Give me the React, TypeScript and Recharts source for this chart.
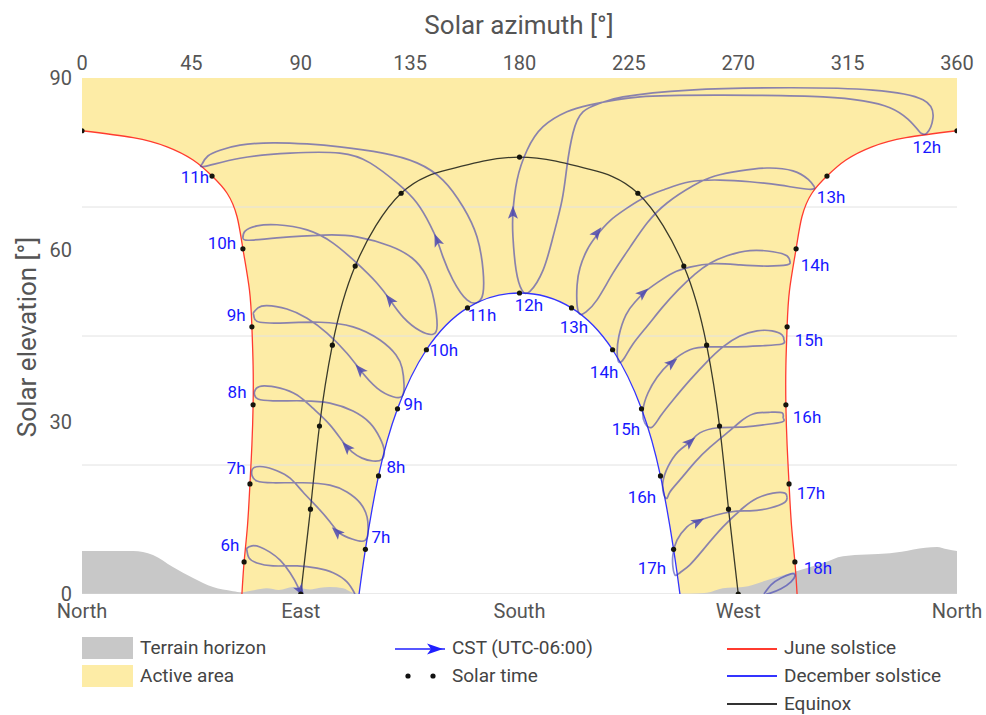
import { CSSProperties } from "react"
import { ComposedChart, Area, Line, Scatter, XAxis, YAxis } from "recharts"

// axes
const azimuthTicks = [0, 45, 90, 135, 180, 225, 270, 315, 360]
const compassTicks = [0, 90, 180, 270, 360]
const compassNames = ["North", "East", "South", "West", "North"]
const elevationTicks = [0, 30, 60, 90]
const gridLevels = [0, 22.5, 45, 67.5]

// sun paths [azimuth, elevation]
const juneLeft = [
  [0, 80.8], [21, 79.6], [35, 78.0], [45.7, 75.7], [53.5, 72.9], [59.7, 69.9], [63.8, 65.8],
  [66.2, 60.2], [68.9, 53.0], [69.9, 46.6], [70.4, 39.8], [70.4, 33.0], [69.9, 26.0],
  [69.1, 19.2], [68.1, 12.0], [66.7, 5.6], [65.8, 0],
]
const juneRight = [
  [294.2, 0], [293.3, 5.6], [291.9, 12.0], [290.9, 19.2], [290.1, 26.0], [289.6, 33.0],
  [289.6, 39.8], [290.1, 46.6], [291.1, 53.0], [293.8, 60.2], [296.2, 65.8], [300.3, 69.9],
  [306.5, 72.9], [314.3, 75.7], [325.0, 78.0], [339.0, 79.6], [360, 80.8],
]
const december = [
  [114.0, 0], [116.6, 7.8], [122.0, 20.6], [129.8, 32.3], [141.7, 42.6], [158.6, 49.9],
  [180, 52.5], [201.4, 49.9], [218.3, 42.6], [230.2, 32.3], [238.0, 20.6], [243.4, 7.8], [246.0, 0],
]
const equinox = [
  [90, 0], [94.0, 14.8], [97.7, 29.3], [103.0, 43.4], [112.4, 57.2], [131.3, 69.9], [151.5, 74.1],
  [165.0, 75.5], [180, 76.2], [195.0, 75.5], [208.5, 74.1], [228.7, 69.9], [247.6, 57.2],
  [257.0, 43.4], [262.3, 29.3], [266.0, 14.8], [270, 0],
]

// solar time dots
const juneDots = [
  [66.7, 5.6], [69.1, 19.2], [70.4, 33.0], [69.9, 46.6], [66.2, 60.2], [53.5, 72.9], [0, 80.8],
  [360, 80.8], [306.5, 72.9], [293.8, 60.2], [290.1, 46.6], [289.6, 33.0], [290.9, 19.2], [293.3, 5.6],
]
const decemberDots = [
  [116.6, 7.8], [122.0, 20.6], [129.8, 32.3], [141.7, 42.6], [158.6, 49.9], [180, 52.5],
  [201.4, 49.9], [218.3, 42.6], [230.2, 32.3], [238.0, 20.6], [243.4, 7.8],
]
const equinoxDots = [
  [90, 0], [94.0, 14.8], [97.7, 29.3], [103.0, 43.4], [112.4, 57.2], [131.3, 69.9], [180, 76.2],
  [228.7, 69.9], [247.6, 57.2], [257.0, 43.4], [262.3, 29.3], [266.0, 14.8], [270, 0],
]

// terrain horizon
const terrain = [
  [0, 7.5], [10, 7.5], [21, 7.5], [29.2, 6.8], [37.4, 4.7], [45.7, 2.8], [53.9, 1.2], [62.1, 0.5],
  [65.8, 0.3], [70, 0.6], [76.1, 1.0], [81, 0.7], [86.8, 1.2], [93.8, 0.8], [98, 1.1], [102, 1.2],
  [107.4, 1.0], [111.5, 0.2], [114, 0], [250, 0], [257.1, 0.2], [263.7, 1.0], [271.9, 1.2],
  [281.8, 2.4], [292.5, 3.8], [304.9, 5.4], [313.1, 6.6], [332.4, 7.1], [351.8, 8.2], [356, 7.8], [360, 7.5],
]

// CST clock-hour analemmas
const cst06 = [
  [89.7, 0], [88.9, 1.2], [85.6, 3.7], [81.5, 5.9], [77.3, 7.3], [73.2, 8.2], [69.9, 8.4], [67.9, 8.0],
  [67.9, 7.5], [68.7, 6.3], [72.0, 5.4], [78.6, 4.9], [88.5, 4.9], [96.7, 4.5], [103.3, 3.7], [109.0, 2.1], [112.3, 0],
]
const cst07 = [
  [69.8, 21.3], [70.6, 22.0], [74.5, 22.2], [80.2, 21.5], [85.6, 20.2], [90.9, 17.8], [96.7, 15.2],
  [102.0, 12.6], [106.1, 10.6], [111.1, 9.6], [115.2, 9.2], [117.3, 9.8], [117.7, 11.2], [117.3, 13.4],
  [114.4, 15.9], [109.0, 17.8], [102.0, 19.0], [90.9, 19.4], [78.6, 19.4], [72.0, 19.7], [70.0, 20.6], [69.8, 21.3],
]
const cst08 = [
  [70.9, 35.2], [71.8, 35.9], [74.9, 36.3], [81.5, 35.9], [88.5, 34.7], [95.0, 32.4], [102.0, 29.5],
  [107.4, 26.5], [111.1, 24.8], [115.2, 23.7], [119.7, 23.2], [123.4, 23.5], [124.3, 25.1], [122.6, 27.2],
  [118.5, 29.8], [111.5, 31.9], [102.0, 33.3], [90.9, 33.7], [78.6, 33.7], [72.4, 34.0], [71.0, 34.7], [70.9, 35.2],
]
const cst09 = [
  [70.4, 49.0], [72.4, 49.9], [76.1, 50.3], [84.3, 49.7], [92.6, 48.1], [100.8, 45.5], [109.0, 42.0],
  [114.4, 39.1], [121.4, 35.9], [128.0, 34.4], [131.7, 34.5], [132.5, 36.5], [131.7, 39.4], [129.2, 41.7],
  [122.6, 44.3], [111.5, 46.6], [97.9, 47.4], [84.3, 47.3], [73.2, 47.4], [70.8, 48.3], [70.4, 49.0],
]
const cst10 = [
  [66.2, 62.1], [67.1, 63.3], [72.0, 64.2], [80.2, 64.4], [92.6, 63.5], [103.3, 61.2], [113.1, 57.7],
  [121.4, 54.2], [126.7, 51.3], [132.1, 48.3], [139.1, 45.9], [144.4, 45.3], [146.1, 46.9], [144.8, 51.3],
  [141.5, 55.6], [135.8, 58.6], [126.7, 60.7], [113.1, 62.3], [99.2, 62.6], [80.2, 62.1], [68.3, 61.7], [66.2, 62.1],
]
const cst11 = [
  [49.4, 75.0], [51.8, 76.4], [56.8, 77.4], [65.0, 78.3], [78.6, 78.7], [92.6, 78.5], [106.1, 78.0],
  [123.8, 76.9], [137.8, 75.2], [148.5, 72.2], [156.8, 67.5], [162.5, 62.3], [165.0, 56.5], [165.0, 52.5],
  [162.9, 50.9], [158.4, 51.3], [152.6, 54.8], [148.5, 58.8], [146.1, 61.7], [143.2, 64.4], [137.8, 68.2],
  [129.6, 71.7], [118.5, 75.2], [106.1, 76.9], [85.6, 76.9], [65.0, 76.0], [50.6, 74.6], [49.4, 75.0],
]
const cst12 = [
  [345.0, 80.4], [332.4, 84.8], [304.9, 86.7], [263.7, 87.0], [229.6, 86.7], [209.0, 85.3], [199.5, 84.1],
  [189.7, 81.5], [183.1, 77.4], [179.0, 72.2], [177.3, 66.5], [177.3, 62.3], [178.6, 56.5], [181.0, 53.0],
  [184.3, 52.8], [189.7, 56.5], [193.8, 62.3], [197.5, 68.7], [199.5, 74.5], [202.0, 80.4], [206.1, 84.1],
  [213.1, 85.6], [222.6, 86.7], [250.1, 87.9], [291.3, 88.3], [325.4, 87.9], [346.0, 86.2], [350.1, 83.0],
  [347.6, 80.4], [345.0, 80.4],
]
const cst13 = [
  [301.4, 71.0], [298.8, 72.3], [292.5, 73.8], [281.8, 74.3], [270.7, 73.8], [260.4, 72.9], [251.4, 71.2],
  [240.7, 68.2], [232.5, 64.7], [225.5, 60.5], [218.5, 56.0], [211.9, 51.3], [207.4, 49.2], [204.9, 48.8],
  [203.7, 50.4], [203.7, 53.9], [204.9, 56.9], [207.8, 60.0], [211.9, 62.6], [217.2, 65.1], [224.2, 67.3],
  [231.6, 69.2], [239.9, 70.6], [250.1, 71.9], [262.5, 72.2], [274.8, 71.9], [287.2, 71.3], [299.0, 70.6], [301.4, 71.0],
]
const cst14 = [
  [291.3, 57.9], [290.0, 59.0], [284.3, 59.7], [274.8, 59.9], [265.4, 59.0], [258.4, 57.7], [252.2, 55.8],
  [245.2, 53.0], [238.6, 49.9], [232.5, 46.7], [226.7, 43.6], [223.2, 41.2], [221.0, 40.4], [220.2, 42.0],
  [220.9, 45.0], [223.8, 48.7], [227.5, 50.9], [231.6, 52.7], [237.0, 54.4], [243.1, 56.0], [250.1, 57.0],
  [259.6, 57.6], [270.7, 57.4], [281.8, 57.2], [290.0, 57.4], [291.3, 57.9],
]
const cst15 = [
  [288.8, 44.3], [288.0, 45.2], [283.9, 45.9], [277.7, 45.9], [270.7, 45.0], [263.7, 43.1], [257.1, 40.5],
  [250.1, 37.3], [243.1, 33.8], [237.8, 30.9], [234.5, 29.1], [231.6, 29.8], [230.8, 32.1], [232.9, 35.1],
  [236.6, 37.8], [241.9, 40.3], [250.1, 42.6], [258.4, 43.1], [269.5, 43.1], [280.2, 43.3], [288.0, 43.6], [288.8, 44.3],
]
const cst16 = [
  [288.4, 30.7], [288.0, 31.6], [283.1, 31.7], [276.1, 31.4], [270.7, 30.0], [265.4, 28.1], [258.4, 25.6],
  [252.2, 23.0], [246.0, 19.9], [241.9, 17.8], [240.7, 16.7], [239.4, 17.3], [239.0, 19.5], [241.1, 22.2],
  [245.2, 24.8], [250.1, 26.5], [254.2, 28.1], [261.7, 29.0], [270.7, 29.1], [280.2, 29.5], [288.0, 30.0], [288.4, 30.7],
]
const cst17 = [
  [290.0, 16.9], [289.2, 17.6], [284.3, 17.6], [277.7, 16.7], [271.9, 15.0], [263.7, 11.7], [255.5, 7.7],
  [250.1, 5.1], [246.0, 3.7], [244.0, 3.3], [243.1, 4.8], [243.1, 6.8], [244.8, 9.4], [248.9, 11.7],
  [254.3, 12.9], [266.6, 14.3], [274.8, 14.5], [283.1, 15.0], [289.2, 16.0], [290.0, 16.9],
]
const cst18 = [
  [280.6, 0], [283.5, 1.6], [287.6, 2.8], [291.7, 3.5], [293.0, 3.5], [293.3, 3.1], [291.7, 2.1],
  [287.6, 0.9], [283.5, 0.2], [281.5, 0],
]
const cstLoops = [cst06, cst07, cst08, cst09, cst10, cst11, cst12, cst13, cst14, cst15, cst16, cst17, cst18]

// arrow heads on the analemmas [azimuth, elevation, screen angle]
const arrowMarks = [
  [89.9, 0.6, 60], [104.9, 10.8, -137], [109.0, 25.6, -132], [114.4, 39.1, -131], [126.7, 51.3, -127],
  [146.1, 61.7, -112], [177.3, 66.5, -90], [211.9, 63.0, -52], [230.8, 52.5, -41], [242.7, 40.3, -39],
  [250.1, 26.5, -41], [253.4, 12.6, -28],
]

// hour labels [azimuth, elevation, text]
const hourLabels: [number, number, string][] = [
  [60.9, 8.5, "6h"], [63.4, 22.0, "7h"], [63.8, 35.2, "8h"], [63.4, 48.7, "9h"], [57.6, 61.2, "10h"],
  [46.5, 72.7, "11h"], [347.6, 78.0, "12h"], [308.2, 69.2, "13h"], [301.6, 57.4, "14h"], [299.1, 44.3, "15h"],
  [298.3, 30.9, "16h"], [299.9, 17.6, "17h"], [302.8, 4.5, "18h"],
  [123.0, 9.9, "7h"], [129.2, 22.2, "8h"], [136.2, 33.1, "9h"], [148.9, 42.6, "10h"], [164.6, 48.7, "11h"],
  [183.9, 50.4, "12h"], [202.4, 46.6, "13h"], [214.8, 38.7, "14h"], [223.8, 28.8, "15h"], [230.4, 16.9, "16h"],
  [234.5, 4.5, "17h"],
]

const RED = "#ff3b2f"
const BLUE = "#3434ff"
const EQUINOX = "#3a3a2a"
const CST = "#2b2bb0"
const YELLOW = "#fdeca6"
const TERRAIN = "#c8c8c8"

const toRows = (list: number[][]) => list.map(([az, el]) => ({ az, el }))

const legendText: CSSProperties = {
  position: "absolute",
  fontSize: 19,
  color: "#444",
  lineHeight: "22px",
  whiteSpace: "nowrap",
}

const ArrowHead = (p: any) => (
  <polygon
    points="7,0 -6,-5 -3,0 -6,5"
    transform={`translate(${p.cx},${p.cy}) rotate(${p.payload.angle})`}
    fill="#4b48b0"
    fillOpacity={0.85}
  />
)

export default function App() {
  const dots = toRows([...juneDots, ...decemberDots, ...equinoxDots])
  const arrows = arrowMarks.map(([az, el, angle]) => ({ az, el, angle }))
  const labels = hourLabels.map(([az, el, text]) => ({ az, el, text }))

  return (
    <div style={{ position: "relative", width: 978, height: 707, fontFamily: "Roboto, sans-serif" }}>
      <style>{`body { margin: 0; } #root { padding: 8px 0 0 8px; } .recharts-surface { overflow: visible !important; }`}</style>
      <ComposedChart width={978} height={620} margin={{ top: 40, right: 29, bottom: 4, left: 0 }}>
        <XAxis
          xAxisId="top"
          orientation="top"
          type="number"
          dataKey="az"
          domain={[0, 360]}
          ticks={azimuthTicks}
          interval={0}
          allowDataOverflow
          tickLine={false}
          axisLine={false}
          height={30}
          tick={{ fill: "#555", fontSize: 20 }}
        />
        <XAxis
          xAxisId="bottom"
          orientation="bottom"
          type="number"
          dataKey="az"
          domain={[0, 360]}
          ticks={compassTicks}
          interval={0}
          allowDataOverflow
          tickLine={false}
          axisLine={false}
          tickMargin={4}
          height={30}
          tick={{ fill: "#555", fontSize: 20 }}
          tickFormatter={(v: number) => compassNames[compassTicks.indexOf(v)]}
        />
        <YAxis
          type="number"
          dataKey="el"
          domain={[0, 90]}
          ticks={elevationTicks}
          interval={0}
          allowDataOverflow
          tickLine={false}
          axisLine={false}
          tickMargin={4}
          width={74}
          tick={{ fill: "#555", fontSize: 20 }}
        />

        <Area
          xAxisId="top"
          data={[{ az: 0, el: 90 }, { az: 360, el: 90 }]}
          dataKey="el"
          type="linear"
          baseValue={0}
          fill={YELLOW}
          fillOpacity={1}
          stroke="none"
          isAnimationActive={false}
        />
        {[juneLeft, december, juneRight].map((edge, i) => (
          <Area
            key={`mask-${i}`}
            xAxisId="top"
            data={toRows(edge)}
            dataKey="el"
            type="natural"
            baseValue={0}
            fill="#ffffff"
            fillOpacity={1}
            stroke="none"
            isAnimationActive={false}
          />
        ))}
        <Area
          xAxisId="bottom"
          data={toRows(terrain)}
          dataKey="el"
          type="monotone"
          baseValue={0}
          fill={TERRAIN}
          fillOpacity={1}
          stroke="none"
          isAnimationActive={false}
        />

        {gridLevels.map((g) => (
          <Line
            key={`grid-${g}`}
            xAxisId="top"
            data={[{ az: 0, el: g }, { az: 360, el: g }]}
            dataKey="el"
            type="linear"
            stroke={g === 0 ? "#d4d4d4" : "#e2e2e2"}
            strokeWidth={1}
            dot={false}
            activeDot={false}
            isAnimationActive={false}
          />
        ))}

        <Line xAxisId="top" data={toRows(juneLeft)} dataKey="el" type="natural" stroke={RED} strokeWidth={1.3} dot={false} activeDot={false} isAnimationActive={false} />
        <Line xAxisId="top" data={toRows(juneRight)} dataKey="el" type="natural" stroke={RED} strokeWidth={1.3} dot={false} activeDot={false} isAnimationActive={false} />
        <Line xAxisId="top" data={toRows(december)} dataKey="el" type="natural" stroke={BLUE} strokeWidth={1.3} dot={false} activeDot={false} isAnimationActive={false} />
        <Line xAxisId="top" data={toRows(equinox)} dataKey="el" type="natural" stroke={EQUINOX} strokeWidth={1.3} dot={false} activeDot={false} isAnimationActive={false} />

        {cstLoops.map((loop, i) => (
          <Line
            key={`cst-${i}`}
            xAxisId="top"
            data={toRows(loop)}
            dataKey="el"
            type="natural"
            stroke={CST}
            strokeOpacity={0.55}
            strokeWidth={1.7}
            dot={false}
            activeDot={false}
            isAnimationActive={false}
          />
        ))}

        <Scatter xAxisId="top" data={arrows} isAnimationActive={false} shape={(p: any) => <ArrowHead {...p} />} />
        <Scatter
          xAxisId="top"
          data={dots}
          isAnimationActive={false}
          shape={(p: any) => <circle cx={p.cx} cy={p.cy} r={2.6} fill="#15150c" />}
        />
        <Scatter
          xAxisId="top"
          data={labels}
          isAnimationActive={false}
          shape={(p: any) => (
            <text x={p.cx} y={p.cy} textAnchor="middle" dominantBaseline="central" fill="#1717ff" fontSize={17}>
              {p.payload.text}
            </text>
          )}
        />
      </ComposedChart>

      <div style={{ position: "absolute", left: 311, top: 2, width: 400, textAlign: "center", fontSize: 26, lineHeight: "30px", color: "#555" }}>
        Solar azimuth [°]
      </div>
      <div
        style={{
          position: "absolute",
          left: -131,
          top: 314,
          width: 300,
          textAlign: "center",
          fontSize: 26,
          lineHeight: "30px",
          color: "#555",
          transform: "rotate(-90deg)",
        }}
      >
        Solar elevation [°]
      </div>

      {/* legend */}
      <div style={{ position: "absolute", left: 74, top: 629, width: 51, height: 22, background: TERRAIN }} />
      <div style={{ ...legendText, left: 132, top: 629 }}>Terrain horizon</div>
      <div style={{ position: "absolute", left: 74, top: 657, width: 51, height: 22, background: YELLOW }} />
      <div style={{ ...legendText, left: 132, top: 657 }}>Active area</div>

      <svg style={{ position: "absolute", left: 387, top: 634 }} width={52} height={14}>
        <line x1={0} y1={7} x2={50} y2={7} stroke="#1f1fff" strokeWidth={1.5} />
        <polygon points="48,7 32,1.5 36,7 32,12.5" fill="#1f1fff" />
      </svg>
      <div style={{ ...legendText, left: 444, top: 629 }}>CST (UTC-06:00)</div>
      <svg style={{ position: "absolute", left: 387, top: 662 }} width={52} height={12}>
        <circle cx={13} cy={6} r={2.6} fill="#111" />
        <circle cx={38} cy={6} r={2.6} fill="#111" />
      </svg>
      <div style={{ ...legendText, left: 444, top: 657 }}>Solar time</div>

      <div style={{ position: "absolute", left: 719, top: 640, width: 50, height: 2, background: RED }} />
      <div style={{ ...legendText, left: 776, top: 629 }}>June solstice</div>
      <div style={{ position: "absolute", left: 719, top: 667, width: 50, height: 2, background: BLUE }} />
      <div style={{ ...legendText, left: 776, top: 657 }}>December solstice</div>
      <div style={{ position: "absolute", left: 719, top: 695, width: 50, height: 2, background: "#333" }} />
      <div style={{ ...legendText, left: 776, top: 685 }}>Equinox</div>
    </div>
  )
}
